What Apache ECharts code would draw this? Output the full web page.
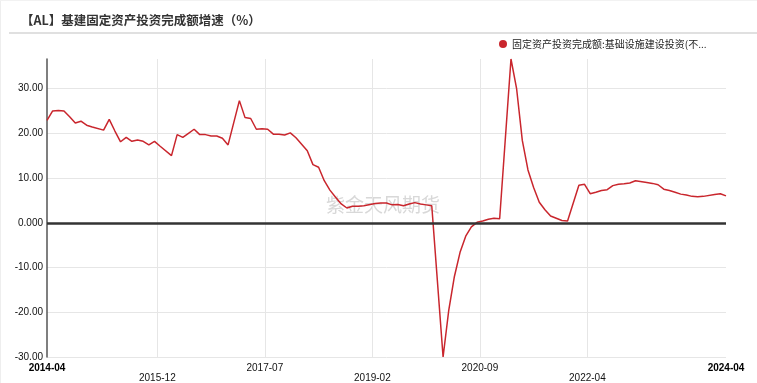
<!DOCTYPE html>
<html>
<head>
<meta charset="utf-8">
<script src="https://cdn.jsdelivr.net/npm/echarts@6/dist/echarts.min.js"></script>
<style>
html,body{margin:0;padding:0;background:#fff;}
#chart{width:757px;height:383px;}
</style>
</head>
<body>
<div id="chart"></div>
<script>
// ---- data ----
const titleText = '【AL】基建固定资产投资完成额增速（%）';
const seriesName = '固定资产投资完成额:基础设施建设投资(不含电力):累计同比';
const watermarkText = '紫金天风期货';

const months = [
  '2014-04','2014-05','2014-06','2014-07','2014-08','2014-09','2014-10','2014-11','2014-12',
  '2015-02','2015-03','2015-04','2015-05','2015-06','2015-07','2015-08','2015-09','2015-10','2015-11','2015-12',
  '2016-02','2016-03','2016-04','2016-05','2016-06','2016-07','2016-08','2016-09','2016-10','2016-11','2016-12',
  '2017-02','2017-03','2017-04','2017-05','2017-06','2017-07','2017-08','2017-09','2017-10','2017-11','2017-12',
  '2018-02','2018-03','2018-04','2018-05','2018-06','2018-07','2018-08','2018-09','2018-10','2018-11','2018-12',
  '2019-02','2019-03','2019-04','2019-05','2019-06','2019-07','2019-08','2019-09','2019-10','2019-11','2019-12',
  '2020-02','2020-03','2020-04','2020-05','2020-06','2020-07','2020-08','2020-09','2020-10','2020-11','2020-12',
  '2021-02','2021-03','2021-04','2021-05','2021-06','2021-07','2021-08','2021-09','2021-10','2021-11','2021-12',
  '2022-02','2022-03','2022-04','2022-05','2022-06','2022-07','2022-08','2022-09','2022-10','2022-11','2022-12',
  '2023-02','2023-03','2023-04','2023-05','2023-06','2023-07','2023-08','2023-09','2023-10','2023-11','2023-12',
  '2024-02','2024-03','2024-04'
];
const values = [
  22.9, 25.0, 25.1, 25.0, 23.7, 22.3, 22.7, 21.8, 21.4,
  20.7, 23.1, 20.5, 18.1, 19.1, 18.2, 18.5, 18.2, 17.4, 18.2, 17.1,
  15.0, 19.7, 19.1, 20.0, 20.9, 19.7, 19.7, 19.4, 19.4, 18.9, 17.4,
  27.3, 23.5, 23.3, 20.9, 21.0, 20.9, 19.8, 19.8, 19.6, 20.1, 19.0,
  16.1, 13.0, 12.4, 9.4, 7.3, 5.7, 4.2, 3.3, 3.7, 3.7, 3.8,
  4.3, 4.4, 4.4, 4.0, 4.1, 3.8, 4.2, 4.5, 4.2, 4.0, 3.8,
  -30.0, -19.6, -12.0, -6.6, -3.0, -0.9, 0.1, 0.4, 0.8, 1.0, 0.9,
  36.6, 29.9, 18.4, 11.8, 7.9, 4.6, 2.9, 1.5, 1.0, 0.5, 0.4,
  8.4, 8.6, 6.5, 6.8, 7.2, 7.4, 8.3, 8.6, 8.7, 8.9, 9.4,
  9.0, 8.8, 8.5, 7.5, 7.2, 6.8, 6.4, 6.2, 5.9, 5.8, 5.9,
  6.3, 6.5, 6.0
];
const xTickLabels = ['2014-04','2015-12','2017-07','2019-02','2020-09','2022-04','2024-04'];
const yTicks = [-30, -20, -10, 0, 10, 20, 30];

// ---- helpers ----
const startMonth = months[0];
function monthIndex(m) {
  const [y, mo] = m.split('-').map(Number);
  const [y0, m0] = startMonth.split('-').map(Number);
  return (y - y0) * 12 + (mo - m0);
}
const xMax = monthIndex(months[months.length - 1]);
// interior labels sit half a month before their month (continuous date scale)
const xTickPos = xTickLabels.map((l, i) =>
  (i === 0 || i === xTickLabels.length - 1) ? monthIndex(l) : monthIndex(l) - 0.5);
const xInterior = xTickPos.slice(1, -1);
const points = months.map((m, i) => [monthIndex(m), values[i]]);

function xLabelFor(v) {
  let best = 0, bd = Infinity;
  xTickPos.forEach((p, i) => { const d = Math.abs(p - v); if (d < bd) { bd = d; best = i; } });
  return best;
}

const chart = echarts.init(document.getElementById('chart'), null, {renderer: 'canvas'});
const option = {
  animation: false,
  backgroundColor: '#fff',
  textStyle: {fontFamily: 'Liberation Sans, Arial, sans-serif'},
  title: {
    text: titleText,
    left: 21, top: 14, padding: 0,
    textStyle: {fontFamily: 'Noto Sans CJK SC', fontSize: 12.5, fontWeight: 'bold', color: '#333'}
  },
  legend: {
    data: [seriesName],
    left: 499, top: 39, padding: 0,
    icon: 'circle', itemWidth: 8, itemHeight: 8, itemGap: 5,
    textStyle: {
      fontFamily: 'Noto Sans CJK SC', fontSize: 10, color: '#222',
      width: 206, overflow: 'truncate', ellipsis: '...'
    }
  },
  graphic: [
    {type: 'line', shape: {x1: 9, y1: 33, x2: 757, y2: 33}, style: {stroke: '#e0e0e0', lineWidth: 2}, silent: true},
    {type: 'line', shape: {x1: 0.5, y1: 0, x2: 0.5, y2: 383}, style: {stroke: '#eeeeee', lineWidth: 1}, silent: true},
    {type: 'line', shape: {x1: 0, y1: 0.5, x2: 757, y2: 0.5}, style: {stroke: '#f2f2f2', lineWidth: 1}, silent: true},
    {type: 'text', x: 383, y: 205, z: 0, silent: true,
     style: {text: watermarkText, fontSize: 19, fontFamily: 'Noto Sans CJK SC', fill: '#d8d8d8',
             align: 'center', verticalAlign: 'middle'}}
  ],
  grid: {left: 47, right: 31, top: 59, bottom: 26, containLabel: false},
  xAxis: {
    type: 'value', min: 0, max: xMax,
    axisLine: {show: false},
    axisTick: {show: false, customValues: xInterior},
    splitLine: {show: true, lineStyle: {color: '#e6e6e6', width: 1}},
    axisLabel: {
      customValues: xTickPos,
      fontSize: 10, lineHeight: 10, color: '#111', margin: 6,
      formatter: function (v) {
        const i = xLabelFor(v);
        const t = xTickLabels[i];
        if (i === 0 || i === xTickLabels.length - 1) return '{b|' + t + '}';
        return (i % 2 === 1) ? '\n' + t : t;
      },
      rich: {b: {fontWeight: 'bold', fontSize: 10, lineHeight: 10, color: '#000'}}
    }
  },
  yAxis: {
    type: 'value', min: yTicks[0], max: 'dataMax', interval: 10,
    axisLine: {show: true, lineStyle: {color: '#555', width: 1.5}},
    axisTick: {show: false, customValues: yTicks},
    splitLine: {show: true, lineStyle: {color: '#e6e6e6', width: 1}},
    axisLabel: {
      customValues: yTicks,
      fontSize: 10, color: '#111', margin: 4,
      formatter: v => Number(v).toPrecision(4)
    }
  },
  series: [{
    name: seriesName,
    type: 'line',
    data: points,
    symbol: 'none',
    z: 3,
    lineStyle: {color: '#c9262d', width: 1.5},
    itemStyle: {color: '#c9262d'},
    markLine: {
      silent: true, symbol: 'none', animation: false,
      label: {show: false},
      lineStyle: {color: '#333', width: 2.5, type: 'solid'},
      data: [{yAxis: 0}]
    }
  }]
};
chart.setOption(option);
</script>
</body>
</html>
